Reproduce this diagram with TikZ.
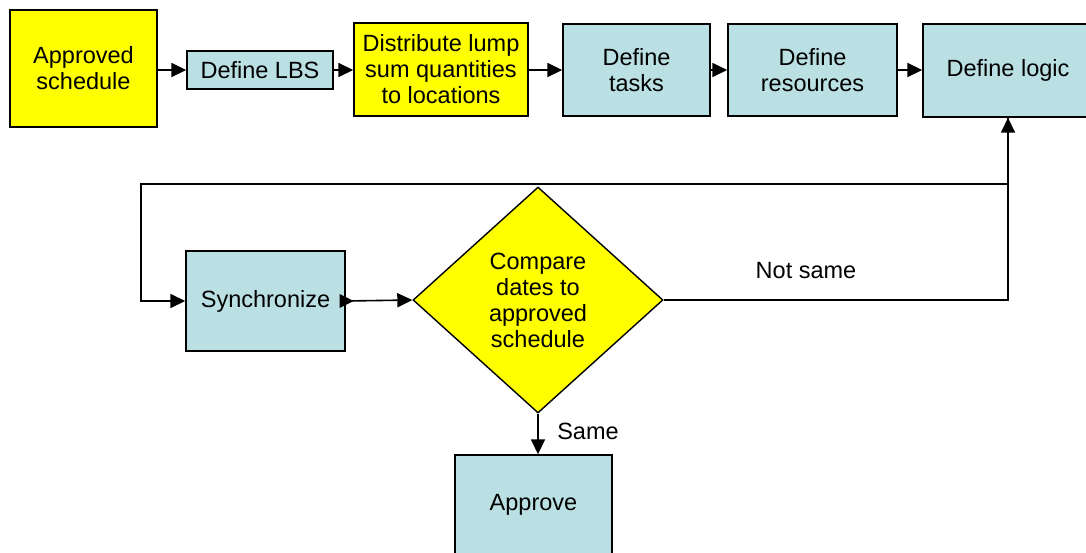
\documentclass[tikz,border=0pt]{standalone}
\usepackage{fontspec}
\setmainfont{Liberation Sans}
\usetikzlibrary{shapes.geometric,arrows.meta}
\definecolor{boxyellow}{RGB}{255,255,0}
\definecolor{boxblue}{RGB}{186,224,227}
\begin{document}
\begin{tikzpicture}[x=1pt,y=-1pt,
  every node/.style={font=\fontsize{23.5}{26}\selectfont, align=center},
  proc/.style={draw=black, line width=1.4pt, fill=boxblue, inner sep=0pt},
  inbox/.style={proc, fill=boxyellow},
  decide/.style={diamond, draw=black, line width=1.4pt, fill=boxyellow, inner sep=0pt,
                 minimum width=250pt, minimum height=226pt},
  flow/.style={line width=1.6pt, -{Triangle[length=15pt,width=14pt]}},
  lbl/.style={inner sep=0pt}
]
\useasboundingbox (0,0) rectangle (1086,552);
\clip (0,0) rectangle (1086,552);

% top row of steps
\node[inbox, minimum width=147pt, minimum height=117pt] (appr) at (83.5,68.5) {Approved\\schedule};
\node[proc,  minimum width=146pt, minimum height=38pt]  (lbs)  at (260,70)    {Define LBS};
\node[inbox, minimum width=174pt, minimum height=93pt]  (dist) at (441,69.5)  {Distribute lump\\sum quantities\\to locations};
\node[proc,  minimum width=147pt, minimum height=92pt]  (tasks) at (636.5,70) {Define\\tasks};
\node[proc,  minimum width=169pt, minimum height=92pt]  (res)  at (812.5,70)  {Define\\resources};
\node[proc,  minimum width=170pt, minimum height=93pt]  (logic) at (1008,70.5) {Define logic};

% lower part
\node[proc, minimum width=159pt, minimum height=100pt] (sync) at (265.5,301) {Synchronize};
\node[decide] (dia) at (538,300) {Compare\\dates to\\approved\\schedule};
\node[proc, minimum width=157pt, minimum height=100pt] (appv) at (533.5,505) {Approve};

% labels
\node[lbl] (nsame) at (806,271) {Not same};
\node[lbl] (same) at (588,431) {Same};

% loop corners
\coordinate (j) at (1008,184);
\coordinate (lp) at (141,184);

% connectors
\draw[flow] (lbs.west -| appr.east) -- (lbs.west);
\draw[flow] (lbs.east) -- (lbs.east -| dist.west);
\draw[flow] (tasks.west -| dist.east) -- (tasks.west);
\draw[flow] (tasks.east) -- (res.west);
\draw[flow] (res.east) -- (res.east -| logic.west);
\draw[line width=1.6pt] (logic.south) -- (j);
\draw[flow] (j) -- (lp) |- (sync.west);
\draw[flow] (sync.east) -- (dia.west);
% arrowhead sitting on the right edge of Synchronize
\fill ([xshift=-6pt,yshift=-7pt]sync.east) -- ([xshift=8pt]sync.east) -- ([xshift=-6pt,yshift=7pt]sync.east) -- cycle;
\draw[flow] (dia.east) -| (logic.south);
\draw[flow] (dia.south) -- (dia.south |- appv.north);
\end{tikzpicture}
\end{document}
